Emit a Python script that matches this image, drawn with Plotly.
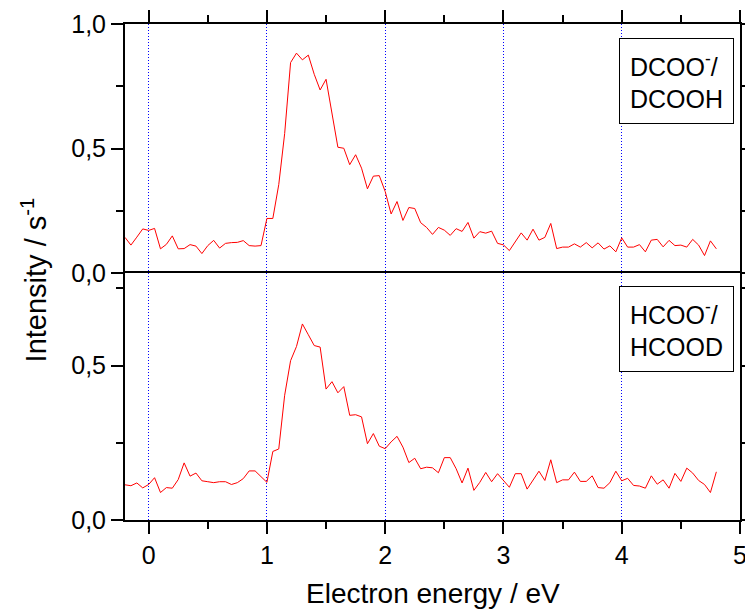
import plotly.graph_objects as go

# Electron energy grid (eV)
energy = [round(-0.2 + 0.05 * i, 2) for i in range(101)]

# DCOO-/DCOOH intensity (s^-1)
dcooh = [0.143, 0.112, 0.144, 0.177, 0.171, 0.179, 0.097, 0.115, 0.149, 0.097,
         0.098, 0.114, 0.108, 0.078, 0.110, 0.131, 0.100, 0.119, 0.122, 0.123,
         0.130, 0.110, 0.108, 0.110, 0.219, 0.219, 0.355, 0.560, 0.845, 0.883,
         0.856, 0.875, 0.798, 0.735, 0.778, 0.643, 0.505, 0.501, 0.435, 0.475,
         0.421, 0.338, 0.389, 0.391, 0.327, 0.237, 0.287, 0.211, 0.263, 0.259,
         0.202, 0.183, 0.155, 0.183, 0.172, 0.151, 0.178, 0.167, 0.203, 0.140,
         0.166, 0.160, 0.168, 0.119, 0.113, 0.090, 0.127, 0.161, 0.132, 0.176,
         0.132, 0.143, 0.199, 0.098, 0.104, 0.104, 0.117, 0.104, 0.122, 0.101,
         0.121, 0.096, 0.109, 0.085, 0.141, 0.104, 0.104, 0.114, 0.085, 0.132,
         0.135, 0.105, 0.131, 0.110, 0.112, 0.104, 0.135, 0.112, 0.070, 0.129,
         0.097]

# HCOO-/HCOOD intensity (s^-1)
hcood = [0.114, 0.111, 0.120, 0.104, 0.115, 0.137, 0.089, 0.105, 0.103, 0.131,
         0.185, 0.142, 0.152, 0.127, 0.124, 0.121, 0.124, 0.124, 0.115, 0.121,
         0.134, 0.159, 0.159, 0.142, 0.122, 0.222, 0.230, 0.404, 0.516, 0.562,
         0.635, 0.600, 0.565, 0.560, 0.424, 0.448, 0.412, 0.432, 0.339, 0.341,
         0.334, 0.247, 0.280, 0.239, 0.231, 0.253, 0.271, 0.236, 0.186, 0.200,
         0.166, 0.171, 0.169, 0.153, 0.202, 0.202, 0.166, 0.120, 0.168, 0.096,
         0.122, 0.154, 0.124, 0.150, 0.127, 0.106, 0.150, 0.150, 0.100, 0.131,
         0.158, 0.128, 0.195, 0.121, 0.130, 0.130, 0.155, 0.125, 0.125, 0.143,
         0.105, 0.103, 0.121, 0.158, 0.127, 0.135, 0.112, 0.110, 0.103, 0.143,
         0.116, 0.130, 0.103, 0.151, 0.125, 0.168, 0.152, 0.128, 0.115, 0.089,
         0.156]

x_range = [-0.2, 5]
top_range = [0, 1.0]
bottom_range = [0, 0.8]
bottom_tickvals = [0, 0.5]

SPLIT = 0.498
FONT = "Liberation Sans, Arial, sans-serif"
TICKFONT = dict(family=FONT, size=25, color="black")

fig = go.Figure()
fig.add_trace(go.Scatter(x=energy, y=dcooh, mode="lines", line=dict(color="#ff0000", width=1),
                         xaxis="x", yaxis="y", showlegend=False, hoverinfo="skip"))
fig.add_trace(go.Scatter(x=energy, y=hcood, mode="lines", line=dict(color="#ff0000", width=1),
                         xaxis="x2", yaxis="y2", showlegend=False, hoverinfo="skip"))

yminor = dict(dtick=0.25, tick0=0, ticks="outside", ticklen=7, tickwidth=2, tickcolor="black")
ycommon = dict(showline=True, linewidth=2, linecolor="black", showgrid=False, zeroline=False,
               automargin=False, tick0=0, dtick=0.5, ticks="outside", ticklen=12, tickwidth=2,
               tickcolor="black", mirror="ticks", tickformat=".1f", tickfont=TICKFONT,
               minor=yminor)
xminor = dict(dtick=0.5, tick0=0, ticks="outside", ticklen=7, tickwidth=2, tickcolor="black")
xcommon = dict(range=x_range, tick0=0, dtick=1, automargin=False,
               showline=True, linewidth=2, linecolor="black", zeroline=False,
               ticks="outside", ticklen=12, tickwidth=2, tickcolor="black",
               tickfont=TICKFONT, ticklabeloverflow="allow", minor=xminor,
               showgrid=True, gridcolor="#0000ff", gridwidth=1, griddash="1px,2px")

fig.update_layout(
    width=745, height=609,
    margin=dict(l=125, r=5, t=24, b=89),
    paper_bgcolor="white", plot_bgcolor="white",
    separators=",.",
    font=dict(family=FONT, color="black"),
    xaxis=dict(xcommon, anchor="y", side="top", showticklabels=False, mirror=False),
    yaxis=dict(ycommon, domain=[SPLIT, 1], range=top_range, anchor="x"),
    xaxis2=dict(xcommon, anchor="y2", side="bottom", mirror=True),
    yaxis2=dict(ycommon, domain=[0, SPLIT], range=bottom_range, anchor="x2",
                tickmode="array", tickvals=bottom_tickvals),
    annotations=[
        dict(x=4.46, y=0.77, xref="x", yref="y", text="DCOO<sup>-</sup>/<br>DCOOH",
             showarrow=False, align="left", xanchor="center", yanchor="middle",
             bordercolor="black", borderwidth=1, borderpad=10, bgcolor="white",
             font=dict(family=FONT, size=25, color="black")),
        dict(x=4.46, y=0.62, xref="x2", yref="y2", text="HCOO<sup>-</sup>/<br>HCOOD",
             showarrow=False, align="left", xanchor="center", yanchor="middle",
             bordercolor="black", borderwidth=1, borderpad=10, bgcolor="white",
             font=dict(family=FONT, size=25, color="black")),
        dict(x=0.5, y=-0.149, xref="paper", yref="paper", text="Electron energy / eV",
             showarrow=False, xanchor="center", yanchor="middle",
             font=dict(family=FONT, size=28, color="black")),
        dict(x=-0.148, y=0.485, xref="paper", yref="paper", text="Intensity / s<sup>-1</sup>",
             showarrow=False, textangle=-90, xanchor="center", yanchor="middle",
             font=dict(family=FONT, size=29, color="black")),
    ],
)

fig.write_html("out.html")
